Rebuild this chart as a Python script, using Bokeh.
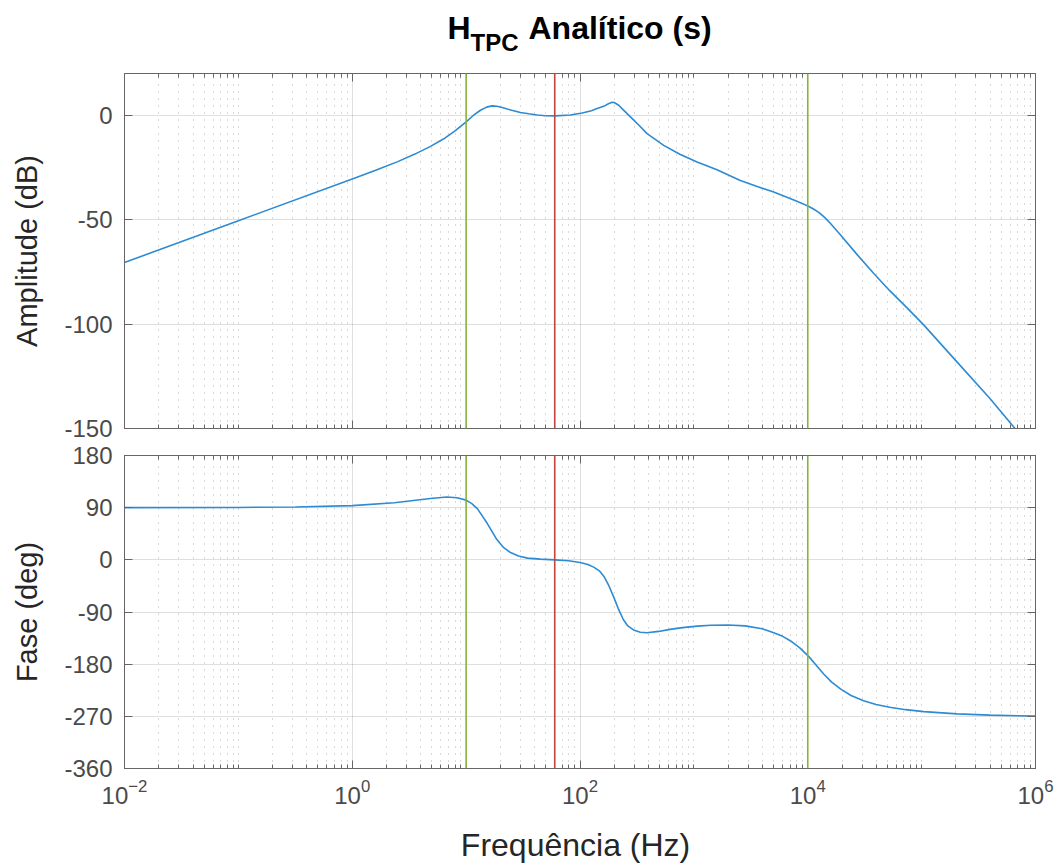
from bokeh.plotting import figure
from bokeh.layouts import column
from bokeh.models import Span, FixedTicker, LinearAxis, LogAxis, Range1d
from bokeh.core.properties import value
from bokeh.embed import file_html
from bokeh.resources import INLINE

# ---------------- data ----------------
amp_freq = [0.01, 0.1, 1, 1.585, 2.512, 3.548, 4.864, 6.31, 7.943, 10, 11.56, 13.37,
            15.14, 16.90, 18.62, 20.70, 25.12, 29.99, 35.48, 41.98, 50.12, 60.81,
            82.41, 104.5, 125.9, 141.3, 166.0, 177.8, 191.4, 199.5, 218.8, 239.9,
            277.3, 331.1, 388.1, 467.7, 543.3, 760.3, 1067, 1596, 2559, 3548, 5023,
            7943, 8913, 10230, 11220, 12590, 14130, 15850, 17380, 19500, 26920, 38020,
            52480, 74130, 104700, 204200, 398100, 660700]
amp_db = [-70.5, -50.5, -30.5, -26.5, -22.2, -18.6, -14.9, -11.4, -7.6, -3.2, -0.1, 2.4,
          3.9, 4.5, 4.3, 3.7, 2.4, 1.3, 0.7, 0.15, -0.2, -0.3,
          0.1, 1.1, 2.2, 3.2, 4.6, 5.5, 6.2, 6.1, 4.8, 2.6,
          -0.8, -4.9, -8.8, -11.9, -14.4, -18.8, -22.4, -26.1, -31.2, -34.0, -36.8,
          -41.1, -42.2, -43.7, -44.9, -46.6, -49.0, -51.8, -54.3, -57.5, -66.5, -75.8,
          -84.0, -92.1, -100.5, -118.1, -135.6, -150.0]

ph_freq = [0.01, 0.1, 0.3162, 1, 2.344, 4.864, 6.761, 8.318, 10, 11.22, 12.59, 15.31,
           18.62, 21.38, 24.55, 28.84, 34.67, 44.67, 60.26, 79.43, 100, 117.5, 131.8,
           147.9, 162.2, 177.8, 199.5, 218.8, 239.9, 263.0, 295.1, 338.8, 388.1, 489.8,
           616.6, 794.3, 1072, 1413, 1995, 2818, 3981, 5023, 6026, 7079, 8511, 10230,
           12020, 13800, 16220, 19500, 23990, 30900, 39810, 52480, 72440, 104700,
           204200, 398100, 1000000]
ph_deg = [90, 90.4, 91.2, 93.5, 98.5, 105.8, 108.5, 107, 103, 97, 88, 63,
          35, 21, 12.6, 6.5, 3, 1.2, 0, -1.5, -4.6, -8, -12.6,
          -19, -28.6, -43, -66, -86, -103, -114, -121, -125, -125.7, -123.5,
          -120, -117, -114.3, -112.8, -112.5, -114, -119, -125.7, -132, -140, -152, -167,
          -183, -197, -211, -223, -234, -243, -249.5, -254.3, -258.5, -261.8,
          -265.7, -268, -269.6]

green_marks = [10, 10000]
red_marks = [60]

x_major = [1e-2, 1e0, 1e2, 1e4, 1e6]
amp_ticks = [-150, -100, -50, 0]
ph_ticks = [-360, -270, -180, -90, 0, 90, 180]

title_main = "Analítico (s)"
title_H = "H"
title_sub = "TPC"
xlabel = "Frequência  (Hz)"
ylabel_top = "Amplitude (dB)"
ylabel_bot = "Fase (deg)"

# ---------------- styling ----------------
FONT = "Liberation Sans"
TXT = "#262626"
TICKC = "#4a4a4a"
FRAME = "#666666"
BLUE = "#2d8bd3"
GREEN = "#86b33a"
RED = "#c0453f"

x_minor = [m * 10.0 ** k for k in range(-2, 6) for m in range(1, 10)]
x_minor = [v for v in x_minor if v not in x_major]

W = 1064
LEFT, RIGHT = 124, 29
TITLE_H = 60


def hide_labels(ax):
    ax.major_label_text_font_size = "1px"
    ax.major_label_text_color = None
    ax.major_label_standoff = 0


def make_fig(height, top, bottom, yr, yticks, show_xlabels):
    p = figure(width=W, height=height, x_axis_type="log",
               x_range=Range1d(1e-2, 1e6), y_range=Range1d(*yr),
               output_backend="svg", toolbar_location=None,
               min_border_left=LEFT, min_border_right=RIGHT,
               min_border_top=top, min_border_bottom=bottom)
    p.outline_line_color = FRAME
    p.outline_line_width = 1
    p.background_fill_color = "white"
    p.border_fill_color = "white"

    xt = FixedTicker(ticks=x_major, minor_ticks=x_minor)
    yt = FixedTicker(ticks=yticks)
    xax = p.xaxis[0]
    yax = p.yaxis[0]
    xax.ticker = xt
    yax.ticker = yt
    yax.major_label_overrides = {t: str(t) for t in yticks}

    for ax in (xax, yax):
        ax.axis_line_color = FRAME
        ax.major_tick_line_color = FRAME
        ax.minor_tick_line_color = FRAME
        ax.major_tick_in = 8
        ax.major_tick_out = 0
        ax.minor_tick_in = 4
        ax.minor_tick_out = 0
        ax.major_label_text_font = FONT
        ax.major_label_text_color = TICKC
        ax.major_label_text_font_size = "24px"
        ax.axis_label_text_font = FONT
        ax.axis_label_text_color = TXT
        ax.axis_label_text_font_size = "29px"
        ax.axis_label_text_font_style = "normal"
    yax.minor_tick_line_color = None
    yax.major_label_standoff = 12
    yax.axis_label_standoff = 18
    xax.major_label_standoff = 10
    xax.axis_label_standoff = 20
    xax.axis_label_text_font_size = "32px"

    if not show_xlabels:
        hide_labels(xax)

    # box ticks on top & right
    ax_top = LogAxis(ticker=xt, axis_line_color=FRAME, major_tick_line_color=FRAME,
                     minor_tick_line_color=FRAME, major_tick_in=8, major_tick_out=0,
                     minor_tick_in=4, minor_tick_out=0)
    ax_right = LinearAxis(ticker=yt, axis_line_color=FRAME, major_tick_line_color=FRAME,
                          minor_tick_line_color=None, major_tick_in=8, major_tick_out=0)
    hide_labels(ax_top)
    hide_labels(ax_right)
    p.add_layout(ax_top, "above")
    p.add_layout(ax_right, "right")

    p.xgrid.ticker = xt
    p.ygrid.ticker = yt
    for g in (p.xgrid, p.ygrid):
        g.grid_line_color = "#262626"
        g.grid_line_alpha = 0.15
        g.grid_line_width = 1
    p.xgrid.minor_grid_line_color = "#262626"
    p.xgrid.minor_grid_line_alpha = 0.35
    p.xgrid.minor_grid_line_dash = "1 6"
    p.xgrid.minor_grid_line_width = 1

    for f in green_marks:
        p.add_layout(Span(location=f, dimension="height", line_color=GREEN, line_width=1.6))
    for f in red_marks:
        p.add_layout(Span(location=f, dimension="height", line_color=RED, line_width=1.6))
    return p, xax, yax


# ---- title strip: frame spans the same columns as the plots ----
tfig = figure(width=W, height=TITLE_H, x_range=Range1d(LEFT, W - RIGHT),
              y_range=Range1d(TITLE_H, 0),
              output_backend="svg", toolbar_location=None,
              x_axis_location=None, y_axis_location=None,
              min_border_left=LEFT, min_border_right=RIGHT,
              min_border_top=0, min_border_bottom=0)
tfig.outline_line_color = None
tfig.grid.visible = False
tfig.text(x=[447], y=[27], text=[title_H], text_font=value(FONT), text_font_size="32px",
          text_font_style="bold", text_color="black", text_baseline="middle",
          text_align="left")
tfig.text(x=[470], y=[42], text=[title_sub], text_font=value(FONT), text_font_size="24px",
          text_font_style="bold", text_color="black", text_baseline="middle",
          text_align="left")
tfig.text(x=[528], y=[27], text=[title_main], text_font=value(FONT), text_font_size="32px",
          text_font_style="bold", text_color="black", text_baseline="middle",
          text_align="left")

# top: frame from y=73 to y=428
top, txax, tyax = make_fig(441 - TITLE_H, 73 - TITLE_H, 13, (-150, 20), amp_ticks, False)
top.line(amp_freq, amp_db, line_color=BLUE, line_width=1.6)
tyax.axis_label = ylabel_top

# bottom: frame from y=455 to y=769
bot, bxax, byax = make_fig(424, 14, 96, (-360, 180), ph_ticks, True)
bot.line(ph_freq, ph_deg, line_color=BLUE, line_width=1.6)
byax.axis_label = ylabel_bot
bxax.axis_label = xlabel

layout = column(tfig, top, bot, spacing=0)
open("out.html", "w").write(file_html(layout, INLINE))
